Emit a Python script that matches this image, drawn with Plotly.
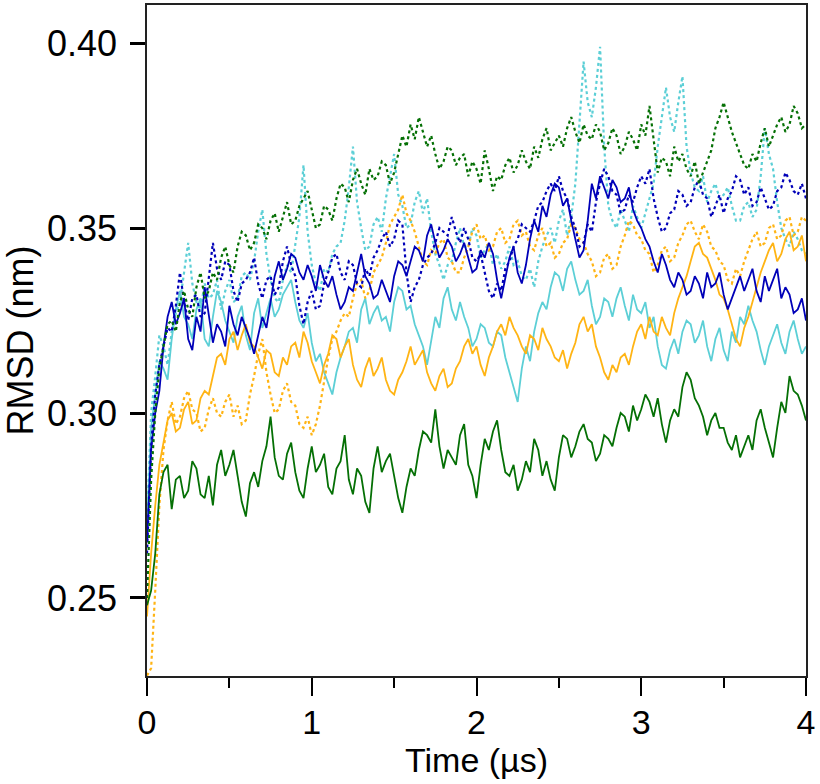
import plotly.graph_objects as go

# sample times (µs), one every 0.025 µs
TIME_US = [round(0.025 * i, 3) for i in range(161)]

GREEN_SOLID = [
    0.248, 0.252, 0.262, 0.278, 0.284, 0.286, 0.274, 0.282, 0.283, 0.277,
    0.279, 0.287, 0.285, 0.278, 0.277, 0.283, 0.275, 0.286, 0.290, 0.283,
    0.286, 0.290, 0.283, 0.276, 0.272, 0.281, 0.284, 0.280, 0.287, 0.291,
    0.299, 0.288, 0.283, 0.282, 0.289, 0.292, 0.284, 0.279, 0.277, 0.285,
    0.291, 0.284, 0.286, 0.289, 0.280, 0.278, 0.285, 0.287, 0.294, 0.282,
    0.278, 0.285, 0.283, 0.276, 0.273, 0.285, 0.291, 0.284, 0.287, 0.289,
    0.283, 0.277, 0.273, 0.280, 0.285, 0.283, 0.290, 0.295, 0.294, 0.292,
    0.301, 0.291, 0.285, 0.290, 0.288, 0.286, 0.294, 0.297, 0.286, 0.283,
    0.277, 0.286, 0.293, 0.290, 0.295, 0.298, 0.290, 0.284, 0.283, 0.286,
    0.279, 0.282, 0.287, 0.284, 0.293, 0.290, 0.283, 0.287, 0.282, 0.279,
    0.288, 0.294, 0.293, 0.288, 0.291, 0.295, 0.297, 0.293, 0.292, 0.287,
    0.289, 0.294, 0.293, 0.291, 0.296, 0.300, 0.299, 0.295, 0.302, 0.298,
    0.301, 0.305, 0.303, 0.299, 0.304, 0.297, 0.292, 0.298, 0.301, 0.299,
    0.307, 0.311, 0.309, 0.304, 0.302, 0.299, 0.294, 0.298, 0.300, 0.296,
    0.296, 0.292, 0.290, 0.294, 0.288, 0.291, 0.294, 0.290, 0.298, 0.301,
    0.296, 0.292, 0.288, 0.296, 0.303, 0.300, 0.310, 0.306, 0.305, 0.302,
    0.298,
]
GREEN_DOTTED = [
    0.250, 0.282, 0.300, 0.312, 0.318, 0.324, 0.325, 0.322, 0.330, 0.333,
    0.328, 0.326, 0.334, 0.338, 0.331, 0.333, 0.338, 0.336, 0.342, 0.345,
    0.340, 0.338, 0.345, 0.349, 0.348, 0.344, 0.346, 0.351, 0.350, 0.347,
    0.352, 0.354, 0.349, 0.353, 0.357, 0.351, 0.352, 0.356, 0.358, 0.360,
    0.355, 0.350, 0.351, 0.356, 0.355, 0.352, 0.358, 0.362, 0.361, 0.357,
    0.363, 0.366, 0.362, 0.359, 0.366, 0.363, 0.364, 0.368, 0.367, 0.362,
    0.365, 0.370, 0.375, 0.372, 0.378, 0.374, 0.380, 0.376, 0.372, 0.375,
    0.370, 0.366, 0.368, 0.372, 0.371, 0.367, 0.369, 0.370, 0.364, 0.368,
    0.366, 0.362, 0.371, 0.366, 0.360, 0.364, 0.363, 0.367, 0.369, 0.365,
    0.367, 0.371, 0.368, 0.366, 0.372, 0.369, 0.374, 0.377, 0.371, 0.373,
    0.375, 0.372, 0.377, 0.380, 0.376, 0.373, 0.378, 0.375, 0.374, 0.378,
    0.376, 0.371, 0.373, 0.377, 0.375, 0.370, 0.372, 0.376, 0.374, 0.371,
    0.378, 0.375, 0.383, 0.374, 0.365, 0.369, 0.368, 0.364, 0.372, 0.368,
    0.370, 0.366, 0.364, 0.368, 0.362, 0.365, 0.368, 0.371, 0.377, 0.380,
    0.384, 0.380, 0.376, 0.373, 0.370, 0.367, 0.366, 0.370, 0.368, 0.373,
    0.377, 0.372, 0.375, 0.378, 0.380, 0.376, 0.378, 0.383, 0.381, 0.377,
    0.378,
]
BLUE_SOLID = [
    0.265, 0.290, 0.300, 0.306, 0.318, 0.326, 0.330, 0.324, 0.327, 0.331,
    0.320, 0.317, 0.326, 0.322, 0.334, 0.327, 0.319, 0.324, 0.322, 0.318,
    0.329, 0.324, 0.321, 0.326, 0.323, 0.320, 0.316, 0.321, 0.326, 0.323,
    0.330, 0.337, 0.341, 0.336, 0.339, 0.343, 0.342, 0.338, 0.336, 0.340,
    0.337, 0.333, 0.340, 0.336, 0.334, 0.337, 0.332, 0.328, 0.330, 0.334,
    0.333, 0.338, 0.343, 0.337, 0.335, 0.331, 0.332, 0.336, 0.333, 0.330,
    0.337, 0.341, 0.340, 0.337, 0.341, 0.345, 0.344, 0.341, 0.348, 0.351,
    0.346, 0.342, 0.344, 0.347, 0.345, 0.341, 0.343, 0.346, 0.342, 0.338,
    0.339, 0.344, 0.342, 0.346, 0.343, 0.336, 0.331, 0.337, 0.342, 0.345,
    0.338, 0.335, 0.340, 0.347, 0.352, 0.349, 0.356, 0.353, 0.359, 0.362,
    0.361, 0.356, 0.358, 0.352, 0.347, 0.342, 0.344, 0.352, 0.362, 0.358,
    0.364, 0.361, 0.358, 0.363, 0.361, 0.357, 0.358, 0.361, 0.355, 0.352,
    0.350, 0.347, 0.345, 0.341, 0.338, 0.343, 0.340, 0.336, 0.334, 0.338,
    0.336, 0.332, 0.333, 0.337, 0.335, 0.331, 0.338, 0.334, 0.335, 0.338,
    0.332, 0.328, 0.331, 0.334, 0.337, 0.333, 0.336, 0.339, 0.333, 0.330,
    0.337, 0.333, 0.336, 0.339, 0.331, 0.334, 0.332, 0.327, 0.328, 0.331,
    0.325,
]
BLUE_DOTTED = [
    0.262, 0.291, 0.305, 0.313, 0.318, 0.323, 0.322, 0.329, 0.338, 0.330,
    0.325, 0.331, 0.332, 0.326, 0.327, 0.337, 0.346, 0.339, 0.336, 0.341,
    0.340, 0.333, 0.330, 0.335, 0.336, 0.338, 0.342, 0.335, 0.331, 0.336,
    0.337, 0.332, 0.334, 0.341, 0.345, 0.340, 0.337, 0.329, 0.324, 0.330,
    0.333, 0.328, 0.329, 0.335, 0.338, 0.342, 0.343, 0.338, 0.336, 0.341,
    0.340, 0.335, 0.334, 0.339, 0.337, 0.342, 0.344, 0.347, 0.349, 0.345,
    0.347, 0.352, 0.351, 0.338, 0.330, 0.334, 0.336, 0.340, 0.342, 0.343,
    0.346, 0.350, 0.349, 0.348, 0.353, 0.349, 0.346, 0.350, 0.347, 0.342,
    0.341, 0.343, 0.338, 0.333, 0.331, 0.335, 0.333, 0.339, 0.341, 0.345,
    0.347, 0.351, 0.350, 0.349, 0.352, 0.356, 0.357, 0.360, 0.362, 0.360,
    0.364, 0.360, 0.358, 0.353, 0.350, 0.345, 0.346, 0.351, 0.349, 0.357,
    0.362, 0.366, 0.364, 0.360, 0.359, 0.354, 0.355, 0.359, 0.357, 0.361,
    0.364, 0.362, 0.366, 0.358, 0.353, 0.349, 0.350, 0.354, 0.355, 0.360,
    0.359, 0.356, 0.357, 0.361, 0.363, 0.359, 0.358, 0.353, 0.356, 0.359,
    0.354, 0.358, 0.360, 0.364, 0.363, 0.359, 0.361, 0.356, 0.357, 0.361,
    0.358, 0.355, 0.356, 0.360, 0.361, 0.365, 0.363, 0.360, 0.359, 0.362,
    0.358,
]
CYAN_SOLID = [
    0.270, 0.296, 0.305, 0.314, 0.312, 0.309, 0.320, 0.328, 0.333, 0.326,
    0.324, 0.320, 0.328, 0.331, 0.320, 0.318, 0.326, 0.333, 0.330, 0.325,
    0.322, 0.319, 0.326, 0.329, 0.321, 0.317, 0.327, 0.331, 0.323, 0.327,
    0.331, 0.326, 0.328, 0.332, 0.334, 0.336, 0.330, 0.325, 0.323, 0.327,
    0.319, 0.314, 0.316, 0.311, 0.308, 0.305, 0.311, 0.315, 0.318, 0.322,
    0.323, 0.319, 0.328, 0.331, 0.324, 0.327, 0.329, 0.325, 0.326, 0.322,
    0.330, 0.334, 0.333, 0.328, 0.329, 0.324, 0.321, 0.318, 0.313, 0.320,
    0.326, 0.323, 0.331, 0.334, 0.328, 0.325, 0.330, 0.326, 0.323, 0.318,
    0.320, 0.324, 0.323, 0.319, 0.318, 0.322, 0.321, 0.315, 0.311, 0.307,
    0.303, 0.312, 0.318, 0.314, 0.322, 0.327, 0.330, 0.328, 0.334, 0.338,
    0.337, 0.333, 0.339, 0.341, 0.336, 0.332, 0.333, 0.336, 0.329, 0.324,
    0.326, 0.331, 0.330, 0.326, 0.331, 0.334, 0.329, 0.325, 0.332, 0.328,
    0.327, 0.330, 0.323, 0.326, 0.318, 0.313, 0.312, 0.317, 0.320, 0.316,
    0.322, 0.325, 0.324, 0.319, 0.321, 0.325, 0.318, 0.314, 0.320, 0.323,
    0.317, 0.314, 0.322, 0.319, 0.326, 0.324, 0.329, 0.325, 0.322, 0.317,
    0.313, 0.318, 0.321, 0.324, 0.319, 0.316, 0.322, 0.325, 0.320, 0.316,
    0.318,
]
CYAN_DOTTED = [
    0.270, 0.300, 0.310, 0.321, 0.318, 0.313, 0.322, 0.327, 0.330, 0.338,
    0.346, 0.335, 0.330, 0.328, 0.335, 0.331, 0.332, 0.336, 0.328, 0.333,
    0.336, 0.330, 0.331, 0.337, 0.338, 0.336, 0.341, 0.349, 0.355, 0.343,
    0.336, 0.331, 0.330, 0.336, 0.340, 0.338, 0.345, 0.353, 0.367, 0.349,
    0.340, 0.335, 0.333, 0.339, 0.338, 0.343, 0.345, 0.346, 0.352, 0.361,
    0.372, 0.357, 0.350, 0.344, 0.345, 0.351, 0.353, 0.349, 0.358, 0.364,
    0.370, 0.359, 0.356, 0.350, 0.351, 0.357, 0.360, 0.354, 0.358, 0.349,
    0.343, 0.340, 0.336, 0.340, 0.341, 0.346, 0.350, 0.345, 0.345, 0.350,
    0.348, 0.342, 0.344, 0.346, 0.340, 0.343, 0.339, 0.341, 0.345, 0.340,
    0.341, 0.337, 0.336, 0.339, 0.334, 0.341, 0.345, 0.348, 0.350, 0.346,
    0.352, 0.355, 0.348, 0.353, 0.362, 0.378, 0.395, 0.384, 0.380, 0.388,
    0.399, 0.372, 0.356, 0.352, 0.350, 0.355, 0.352, 0.349, 0.356, 0.353,
    0.350, 0.354, 0.358, 0.362, 0.372, 0.380, 0.388, 0.380, 0.376, 0.384,
    0.391, 0.372, 0.365, 0.361, 0.360, 0.364, 0.357, 0.360, 0.362, 0.358,
    0.359, 0.361, 0.356, 0.352, 0.352, 0.356, 0.357, 0.353, 0.355, 0.364,
    0.377, 0.370, 0.366, 0.357, 0.350, 0.347, 0.345, 0.349, 0.347, 0.344,
    0.343,
]
ORANGE_SOLID = [
    0.245, 0.262, 0.275, 0.286, 0.292, 0.298, 0.300, 0.295, 0.296, 0.301,
    0.303, 0.297, 0.298, 0.304, 0.306, 0.305, 0.310, 0.315, 0.316, 0.313,
    0.320, 0.322, 0.317, 0.321, 0.324, 0.319, 0.318, 0.315, 0.312, 0.317,
    0.316, 0.311, 0.310, 0.315, 0.313, 0.318, 0.319, 0.315, 0.322, 0.319,
    0.314, 0.311, 0.308, 0.313, 0.316, 0.321, 0.320, 0.315, 0.318, 0.320,
    0.313, 0.309, 0.307, 0.312, 0.315, 0.310, 0.312, 0.315, 0.309, 0.306,
    0.305, 0.309, 0.311, 0.314, 0.318, 0.313, 0.315, 0.317, 0.311, 0.308,
    0.306, 0.310, 0.312, 0.307, 0.308, 0.312, 0.314, 0.318, 0.320, 0.316,
    0.318, 0.313, 0.310, 0.315, 0.318, 0.322, 0.324, 0.321, 0.326, 0.323,
    0.321, 0.318, 0.316, 0.321, 0.320, 0.317, 0.323, 0.320, 0.318, 0.315,
    0.314, 0.317, 0.312, 0.316, 0.319, 0.324, 0.326, 0.322, 0.324, 0.318,
    0.315, 0.311, 0.309, 0.313, 0.311, 0.315, 0.316, 0.313, 0.318, 0.322,
    0.324, 0.320, 0.326, 0.322, 0.321, 0.326, 0.323, 0.321, 0.327, 0.331,
    0.334, 0.337, 0.341, 0.345, 0.346, 0.343, 0.342, 0.339, 0.336, 0.332,
    0.331, 0.328, 0.324, 0.320, 0.318, 0.323, 0.326, 0.330, 0.334, 0.338,
    0.341, 0.344, 0.346, 0.341, 0.343, 0.347, 0.349, 0.344, 0.345, 0.348,
    0.341,
]
ORANGE_DOTTED = [
    0.229, 0.231, 0.252, 0.275, 0.290, 0.298, 0.303, 0.297, 0.299, 0.304,
    0.306, 0.301, 0.300, 0.295, 0.296, 0.301, 0.304, 0.300, 0.299, 0.303,
    0.305, 0.299, 0.302, 0.297, 0.298, 0.305, 0.310, 0.316, 0.320, 0.311,
    0.305, 0.300, 0.301, 0.306, 0.308, 0.303, 0.302, 0.297, 0.296, 0.299,
    0.294, 0.297, 0.302, 0.309, 0.315, 0.320, 0.322, 0.325, 0.327, 0.326,
    0.331, 0.335, 0.336, 0.331, 0.333, 0.338, 0.340, 0.342, 0.346, 0.351,
    0.353, 0.355, 0.359, 0.354, 0.352, 0.349, 0.345, 0.341, 0.340, 0.344,
    0.343, 0.346, 0.347, 0.342, 0.341, 0.338, 0.338, 0.342, 0.345, 0.349,
    0.351, 0.347, 0.348, 0.344, 0.345, 0.349, 0.350, 0.346, 0.347, 0.351,
    0.352, 0.348, 0.349, 0.345, 0.344, 0.348, 0.350, 0.345, 0.346, 0.342,
    0.343, 0.346, 0.347, 0.351, 0.350, 0.347, 0.346, 0.343, 0.341, 0.337,
    0.338, 0.342, 0.343, 0.339, 0.340, 0.345, 0.348, 0.352, 0.351, 0.348,
    0.347, 0.344, 0.343, 0.338, 0.340, 0.344, 0.345, 0.341, 0.342, 0.346,
    0.348, 0.351, 0.352, 0.349, 0.347, 0.351, 0.349, 0.345, 0.344, 0.341,
    0.340, 0.336, 0.335, 0.339, 0.337, 0.341, 0.344, 0.347, 0.349, 0.345,
    0.346, 0.350, 0.351, 0.347, 0.348, 0.352, 0.353, 0.348, 0.349, 0.353,
    0.352,
]

BLUE = "#0000b8"
CYAN = "#5ccfd6"
ORANGE = "#ffb414"
GREEN = "#057005"

SERIES = [
    (CYAN_SOLID, CYAN, "solid"),
    (CYAN_DOTTED, CYAN, "dot"),
    (ORANGE_SOLID, ORANGE, "solid"),
    (ORANGE_DOTTED, ORANGE, "dot"),
    (BLUE_SOLID, BLUE, "solid"),
    (BLUE_DOTTED, BLUE, "dot"),
    (GREEN_SOLID, GREEN, "solid"),
    (GREEN_DOTTED, GREEN, "dot"),
]

FONT = "Liberation Sans, Arial, sans-serif"

fig = go.Figure()
for values, colour, dash in SERIES:
    assert len(values) == len(TIME_US)
    fig.add_scatter(x=TIME_US, y=values, mode="lines", showlegend=False,
                    line=dict(color=colour, dash=dash,
                              width=1.8 if dash == "solid" else 2.2))

fig.update_layout(
    width=820, height=784,
    paper_bgcolor="white", plot_bgcolor="white",
    margin=dict(l=147, r=14, t=5, b=108),
    font=dict(family=FONT, size=36, color="black"),
)
fig.update_xaxes(
    range=[0, 4], showgrid=False, zeroline=False, automargin=False,
    showline=True, linecolor="#222", linewidth=1.5, mirror=True,
    tickvals=[0, 1, 2, 3, 4], ticks="outside", ticklen=18, tickwidth=1.5,
    tickcolor="black",
    minor=dict(tickvals=[0.5, 1.5, 2.5, 3.5], ticks="outside",
               ticklen=10, tickwidth=1.5, tickcolor="black"),
    tickfont=dict(size=34), ticklabelstandoff=-3,
    title=dict(text="Time (µs)", font=dict(size=34), standoff=0),
)
fig.update_yaxes(
    range=[0.2289, 0.4103], showgrid=False, zeroline=False, automargin=False,
    showline=True, linecolor="#222", linewidth=1.5, mirror=True,
    tickvals=[0.25, 0.30, 0.35, 0.40], tickformat=".2f",
    ticks="outside", ticklen=15, tickwidth=2.5, tickcolor="black",
    tickfont=dict(size=36), ticklabelstandoff=6,
    title=dict(text="RMSD (nm)", font=dict(size=36), standoff=4),
)

fig.write_html("out.html", config={"displayModeBar": False},
               post_script="document.body.style.margin='0';")
